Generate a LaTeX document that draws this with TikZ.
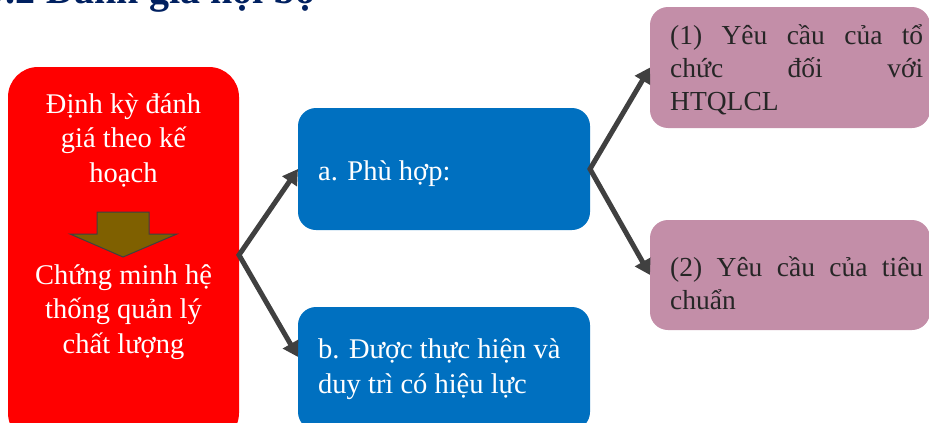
\documentclass[tikz,border=0pt]{standalone}
\usepackage{fontspec}
\setmainfont{Liberation Serif}
\usetikzlibrary{arrows.meta}

\definecolor{boxred}{RGB}{255,0,0}
\definecolor{boxblue}{RGB}{0,112,192}
\definecolor{boxpink}{RGB}{195,142,168}
\definecolor{linkgray}{RGB}{64,64,64}
\definecolor{arrowbrown}{RGB}{127,96,0}
\definecolor{headnavy}{RGB}{0,32,96}
\definecolor{inkdark}{RGB}{38,38,38}

\begin{document}
\begin{tikzpicture}[x=1pt,y=-1pt,
  panel/.style={draw=none, inner sep=0pt, outer sep=0pt},
  redpanel/.style={panel, fill=boxred, rounded corners=30pt},
  bluepanel/.style={panel, fill=boxblue, rounded corners=18pt},
  pinkpanel/.style={panel, fill=boxpink, rounded corners=18pt},
  lighttext/.style={text=white, inner sep=0pt, font=\fontsize{28.5}{34.5}\selectfont},
  darktext/.style={text=inkdark, inner sep=0pt, font=\fontsize{27.5}{33}\selectfont},
  heading/.style={text=headnavy, inner sep=0pt, font=\fontsize{40}{48}\selectfont\bfseries},
  link/.style={draw=linkgray, line width=5pt, line join=miter,
    {Triangle[length=15pt,width=17pt]}-{Triangle[length=15pt,width=17pt]}},
  blockarrow/.style={fill=arrowbrown, draw=linkgray, line width=1pt, line join=miter}
]
\clip (0,0) rectangle (929,423);

% section heading, partly above the frame
\node[heading, anchor=base east] (title) at (316,4) {9.2 Đánh giá nội bộ};

% left column: periodic audit panel (multi-line texts are placed by their last baseline)
\node[redpanel, minimum width=231pt, minimum height=376pt] (plan) at (123.5,255) {};
\node[lighttext, anchor=base, align=center] (plantext) at (123.5,182)
  {Định kỳ đánh\\giá theo kế\\hoạch};
\draw[blockarrow] (97,212) -- (149,212) -- (149,234) -- (177,234) -- (123,257)
  -- (70,234) -- (97,234) -- cycle;
\node[lighttext, anchor=base, align=center] (prooftext) at (123.5,353)
  {Chứng minh hệ\\thống quản lý\\chất lượng};

% middle column
\node[bluepanel, minimum width=292pt, minimum height=122pt] (fit) at (444,169) {};
\node[lighttext, anchor=base west] (fittext) at (318,180) {a. Phù hợp:};
\node[bluepanel, minimum width=292pt, minimum height=123pt] (impl) at (444,368.5) {};
\node[lighttext, anchor=base west, align=left] (impltext) at (318,393)
  {b. Được thực hiện và\\duy trì có hiệu lực};

% right column
\node[pinkpanel, minimum width=280pt, minimum height=121pt] (req1) at (790,67.5) {};
\node[darktext, anchor=base west, align=left] (req1text) at (670,110)
  {\makebox[253pt][s]{(1) Yêu cầu của tổ}\\\makebox[253pt][s]{chức đối với}\\HTQLCL};
\node[pinkpanel, minimum width=280pt, minimum height=110pt] (req2) at (790,275) {};
\node[darktext, anchor=base west, align=left] (req2text) at (670,309)
  {\makebox[253pt][s]{(2) Yêu cầu của tiêu}\\chuẩn};

% connectors
\draw[link] (fit.west) -- (plan.east) -- ([yshift=11.5pt]impl.west);
\draw[link] (req1.west) -- (fit.east) -- (req2.west);
\end{tikzpicture}
\end{document}
